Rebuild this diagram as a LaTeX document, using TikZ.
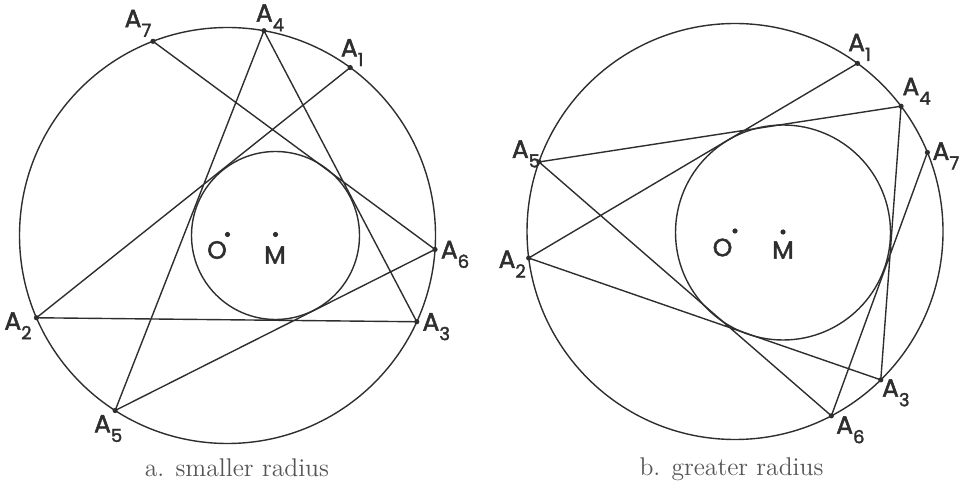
\documentclass[tikz,border=0pt]{standalone}
\usepackage{fontspec}
\usepackage{xcolor}
\newfontfamily\markfont{Poppins}[FakeBold=2]
\definecolor{inkgray}{HTML}{2E2E2E}
\definecolor{capgray}{HTML}{555555}
\newcommand{\Apt}[1]{A\raisebox{-0.7ex}{\fontsize{9}{10}\selectfont #1}}

\begin{document}
\begin{tikzpicture}[x=0.5pt, y=0.5pt, line width=0.7pt,
    every node/.style={font=\markfont\fontsize{12.5}{14}\selectfont, text=inkgray, inner sep=0pt},
    caption/.style={font=\rmfamily\fontsize{12.8}{15}\selectfont, text=capgray, anchor=base}]
  \useasboundingbox (0,0) rectangle (962,487);
  % a. smaller radius
  \begin{scope}[shift={(227.5,251.5)}]
    \draw[inkgray] (0,0) circle (208);
    \draw[inkgray] (48,0) circle (84);
    \coordinate (oa) at (0,1);
    \coordinate (ma) at (48,1);
    \coordinate (a1) at (53.85:208);
    \coordinate (a2) at (203.3:208);
    \coordinate (a3) at (-24.5:208);
    \coordinate (a4) at (79.9:208);
    \coordinate (a5) at (237.3:208);
    \coordinate (a6) at (-3.85:208);
    \coordinate (a7) at (111:208);
    \draw[inkgray] (a1) -- (a2) -- (a3) -- (a4) -- (a5) -- (a6) -- (a7);
    \foreach \p in {a1,a2,a3,a4,a5,a6,a7,oa,ma}
      \fill[inkgray] (\p) circle (2.6);
    \node (la1) at ([shift={(2,15)}]a1) {\Apt{1}};
    \node (la2) at ([shift={(-18.5,-8)}]a2) {\Apt{2}};
    \node (la3) at ([shift={(19.5,-5)}]a3) {\Apt{3}};
    \node (la4) at ([shift={(6,13)}]a4) {\Apt{4}};
    \node (la5) at ([shift={(-7,-18)}]a5) {\Apt{5}};
    \node (la6) at ([shift={(20,-5)}]a6) {\Apt{6}};
    \node (la7) at ([shift={(-15,18)}]a7) {\Apt{7}};
    \node (loa) at (-10.5,-14.5) {O};
    \node (lma) at (47.5,-19.5) {M};
  \end{scope}
  % b. greater radius
  \begin{scope}[shift={(735,255.5)}]
    \draw[inkgray] (0,0) circle (208);
    \draw[inkgray] (48,-1) circle (107.5);
    \coordinate (ob) at (0,0.5);
    \coordinate (mb) at (48,-0.5);
    \coordinate (b1) at (53.93:208);
    \coordinate (b2) at (187.33:208);
    \coordinate (b3) at (-45.5:208);
    \coordinate (b4) at (37.03:208);
    \coordinate (b5) at (160.47:208);
    \coordinate (b6) at (-62.4:208);
    \coordinate (b7) at (22.34:208);
    \draw[inkgray] (b1) -- (b2) -- (b3) -- (b4) -- (b5) -- (b6) -- (b7);
    \foreach \p in {b1,b2,b3,b4,b5,b6,b7,ob,mb}
      \fill[inkgray] (\p) circle (2.6);
    \node (lb1) at ([shift={(2,16)}]b1) {\Apt{1}};
    \node (lb2) at ([shift={(-16.5,-6)}]b2) {\Apt{2}};
    \node (lb3) at ([shift={(15,-13)}]b3) {\Apt{3}};
    \node (lb4) at ([shift={(15.5,15)}]b4) {\Apt{4}};
    \node (lb5) at ([shift={(-13,8)}]b5) {\Apt{5}};
    \node (lb6) at ([shift={(19,-14)}]b6) {\Apt{6}};
    \node (lb7) at ([shift={(18.5,-3.5)}]b7) {\Apt{7}};
    \node (lob) at (-12.5,-16) {O};
    \node (lmb) at (48,-18.5) {M};
  \end{scope}
  \node[caption] (capa) at (237,11) {a. smaller radius};
  \node[caption] (capb) at (731.5,12) {b. greater radius};
\end{tikzpicture}
\end{document}
